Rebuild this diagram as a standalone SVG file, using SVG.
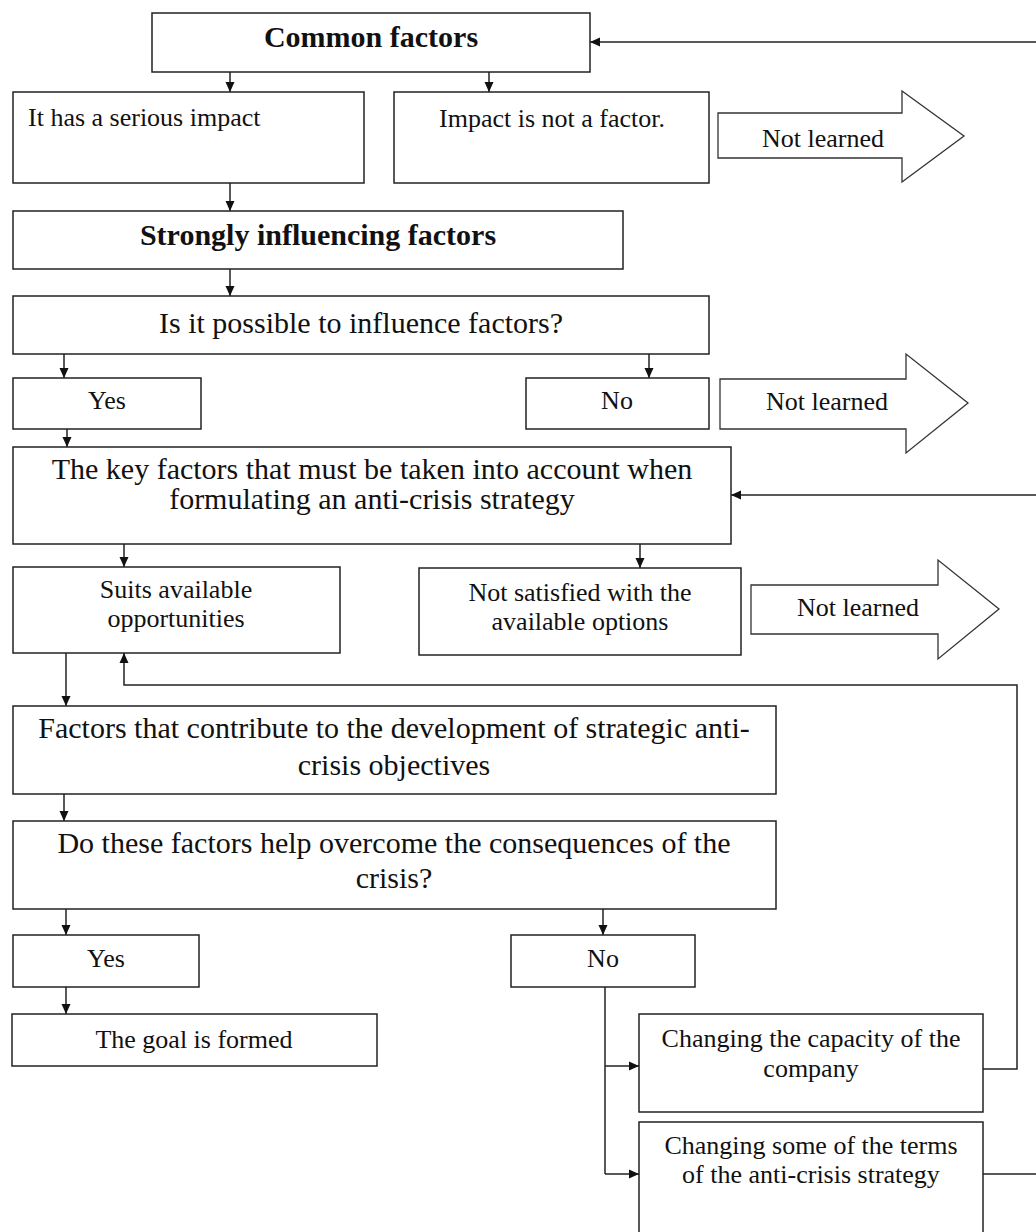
<svg xmlns="http://www.w3.org/2000/svg" width="1036" height="1232" viewBox="0 0 1036 1232">
<style>
.box{fill:#fff;stroke:#222;stroke-width:1.5}
.big{fill:#fff;stroke:#333;stroke-width:1.3}
.t{font-family:"Liberation Serif","Times New Roman",serif;font-size:26px;fill:#111}
.tl{font-family:"Liberation Serif","Times New Roman",serif;font-size:30px;fill:#111}
.tb{font-family:"Liberation Serif","Times New Roman",serif;font-size:30px;font-weight:bold;fill:#111}
.c{text-anchor:middle}
.ln{fill:none;stroke:#222;stroke-width:1.5}
</style>
<defs>
<marker id="ah" markerUnits="userSpaceOnUse" markerWidth="10" markerHeight="10" refX="10" refY="5" orient="auto">
<path d="M0,0.5 L10,5 L0,9.5 z" fill="#111"/>
</marker>
</defs>
<rect width="1036" height="1232" fill="#fff"/>
<g id="connectors">
<line class="ln" x1="230" y1="72" x2="230" y2="92" marker-end="url(#ah)"/>
<line class="ln" x1="489" y1="72" x2="489" y2="92" marker-end="url(#ah)"/>
<line class="ln" x1="1036" y1="42" x2="590" y2="42" marker-end="url(#ah)"/>
<line class="ln" x1="230" y1="183" x2="230" y2="211" marker-end="url(#ah)"/>
<line class="ln" x1="230" y1="269" x2="230" y2="296" marker-end="url(#ah)"/>
<line class="ln" x1="64" y1="354" x2="64" y2="378" marker-end="url(#ah)"/>
<line class="ln" x1="649" y1="354" x2="649" y2="378" marker-end="url(#ah)"/>
<line class="ln" x1="67" y1="429" x2="67" y2="447" marker-end="url(#ah)"/>
<line class="ln" x1="1036" y1="495" x2="731" y2="495" marker-end="url(#ah)"/>
<line class="ln" x1="124" y1="544" x2="124" y2="567" marker-end="url(#ah)"/>
<line class="ln" x1="640" y1="544" x2="640" y2="568" marker-end="url(#ah)"/>
<line class="ln" x1="66" y1="653" x2="66" y2="706" marker-end="url(#ah)"/>
<polyline class="ln" points="983,1069 1017,1069 1017,685 124,685 124,653" marker-end="url(#ah)"/>
<line class="ln" x1="64" y1="794" x2="64" y2="821" marker-end="url(#ah)"/>
<line class="ln" x1="66" y1="909" x2="66" y2="935" marker-end="url(#ah)"/>
<line class="ln" x1="603" y1="909" x2="603" y2="935" marker-end="url(#ah)"/>
<line class="ln" x1="66" y1="987" x2="66" y2="1014" marker-end="url(#ah)"/>
<line class="ln" x1="605" y1="987" x2="605" y2="1174"/>
<line class="ln" x1="605" y1="1066" x2="639" y2="1066" marker-end="url(#ah)"/>
<line class="ln" x1="605" y1="1174" x2="639" y2="1174" marker-end="url(#ah)"/>
<line class="ln" x1="983" y1="1174" x2="1036" y2="1174"/>
</g>
<g id="common"><rect class="box" x="152" y="13" width="438" height="59"/><text class="tb c" x="371" y="47">Common factors</text></g>
<g id="serious"><rect class="box" x="13" y="92" width="351" height="91"/><text class="t" x="28" y="126">It has a serious impact</text></g>
<g id="notfactor"><rect class="box" x="394" y="92" width="315" height="91"/><text class="t c" x="552" y="127">Impact is not a factor.</text></g>
<g id="notlearned1"><polygon class="big" points="718,113 902,113 902,91 964,136 902,182 902,158 718,158"/><text class="t c" x="823" y="147">Not learned</text></g>
<g id="strongly"><rect class="box" x="13" y="211" width="610" height="58"/><text class="tb c" x="318" y="245">Strongly influencing factors</text></g>
<g id="possible"><rect class="box" x="13" y="296" width="696" height="58"/><text class="tl c" x="361" y="333">Is it possible to influence factors?</text></g>
<g id="yes1"><rect class="box" x="13" y="378" width="188" height="51"/><text class="t c" x="107" y="409">Yes</text></g>
<g id="no1"><rect class="box" x="526" y="378" width="183" height="51"/><text class="t c" x="617" y="409">No</text></g>
<g id="notlearned2"><polygon class="big" points="720,379 906,379 906,354 968,403 906,453 906,429 720,429"/><text class="t c" x="827" y="410">Not learned</text></g>
<g id="key"><rect class="box" x="13" y="447" width="718" height="97"/><text class="tl c" x="372" y="479">The key factors that must be taken into account when</text><text class="tl c" x="372" y="509">formulating an anti-crisis strategy</text></g>
<g id="suits"><rect class="box" x="13" y="567" width="327" height="86"/><text class="t c" x="176" y="598">Suits available</text><text class="t c" x="176" y="627">opportunities</text></g>
<g id="notsatisfied"><rect class="box" x="419" y="568" width="322" height="87"/><text class="t c" x="580" y="601">Not satisfied with the</text><text class="t c" x="580" y="630">available options</text></g>
<g id="notlearned3"><polygon class="big" points="751,585 938,585 938,560 999,609 938,659 938,634 751,634"/><text class="t c" x="858" y="616">Not learned</text></g>
<g id="factors"><rect class="box" x="13" y="706" width="763" height="88"/><text class="tl c" x="394" y="738">Factors that contribute to the development of strategic anti-</text><text class="tl c" x="394" y="775">crisis objectives</text></g>
<g id="dothese"><rect class="box" x="13" y="821" width="763" height="88"/><text class="tl c" x="394" y="853">Do these factors help overcome the consequences of the</text><text class="tl c" x="394" y="888">crisis?</text></g>
<g id="yes2"><rect class="box" x="13" y="935" width="186" height="52"/><text class="t c" x="106" y="967">Yes</text></g>
<g id="no2"><rect class="box" x="511" y="935" width="184" height="52"/><text class="t c" x="603" y="967">No</text></g>
<g id="goal"><rect class="box" x="12" y="1014" width="365" height="52"/><text class="t c" x="194" y="1048">The goal is formed</text></g>
<g id="capacity"><rect class="box" x="639" y="1014" width="344" height="98"/><text class="t c" x="811" y="1047">Changing the capacity of the</text><text class="t c" x="811" y="1077">company</text></g>
<g id="terms"><rect class="box" x="639" y="1122" width="344" height="130"/><text class="t c" x="811" y="1154">Changing some of the terms</text><text class="t c" x="811" y="1183">of the anti-crisis strategy</text></g>
</svg>
